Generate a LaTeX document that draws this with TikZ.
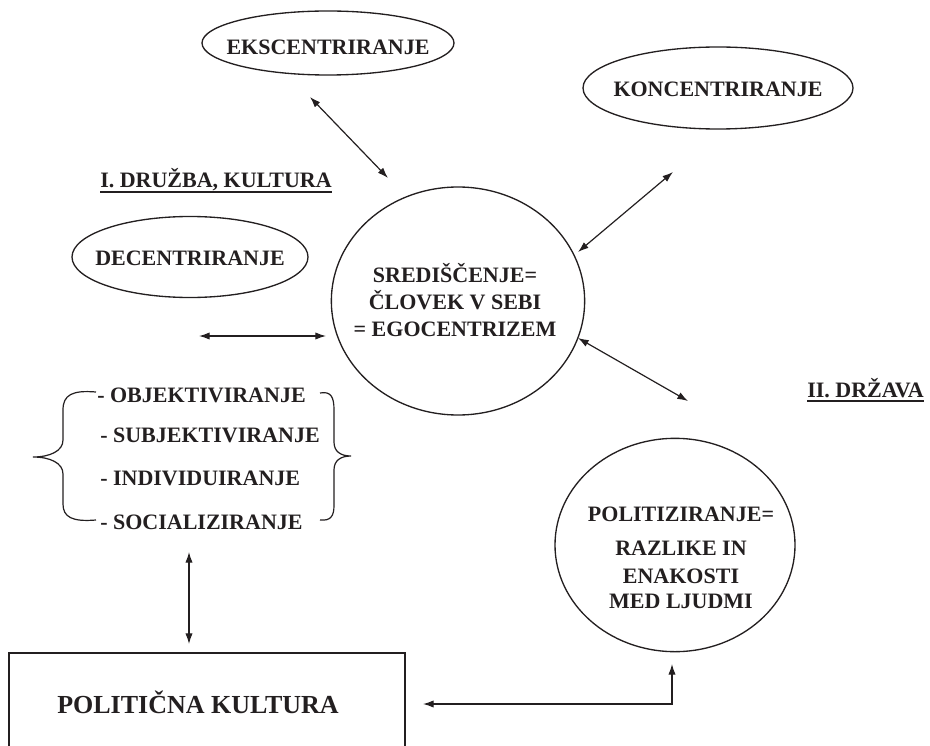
\documentclass[tikz,border=0pt]{standalone}
\usepackage{fontspec}
\setmainfont{Liberation Serif}
\usetikzlibrary{shapes.geometric,arrows.meta}
\definecolor{ink}{HTML}{231F20}
\begin{document}
\begin{tikzpicture}[x=0.75pt,y=-0.75pt,
  txt/.style={font=\fontsize{16.5}{19}\selectfont\bfseries, text=ink, inner sep=0pt},
  oval/.style={ellipse, draw=ink, line width=1pt, inner sep=0pt},
  dbl/.style={{Latex[length=8pt,width=5.5pt]}-{Latex[length=8pt,width=5.5pt]}, line width=0.9pt, draw=ink},
  brace/.style={draw=ink, line width=0.9pt},
  uline/.style={draw=ink, line width=1.5pt}]
\useasboundingbox (0,0) rectangle (930,745);

% ellipses and circles
\node[oval, minimum width=189pt, minimum height=48pt] (eks) at (328,43) {};
\node[txt] (ekstxt) at (328,47) {EKSCENTRIRANJE};
\node[oval, minimum width=202.5pt, minimum height=61.5pt] (kon) at (718,88) {};
\node[txt] (kontxt) at (718,89) {KONCENTRIRANJE};
\node[oval, minimum width=177pt, minimum height=60.75pt] (dec) at (190,257) {};
\node[txt] (dectxt) at (190,258) {DECENTRIRANJE};
\node[oval, minimum width=190pt, minimum height=171pt] (ctr) at (458,301) {};
\node[txt, font=\fontsize{16.5}{20}\selectfont\bfseries, align=center] (ctrtxt) at (455,300)
  {SREDIŠČENJE=\\ČLOVEK V SEBI\\= EGOCENTRIZEM};
\node[oval, minimum width=180pt, minimum height=160pt] (pol) at (675,545) {};
\node[txt, align=center] (poltxt) at (681,558)
  {POLITIZIRANJE=\\[6.5pt]RAZLIKE IN\\[2pt]ENAKOSTI\hspace*{12pt}\\MED LJUDMI};

% headings
\node[txt, anchor=base west] (h1) at (100,188) {I. DRUŽBA, KULTURA};
\draw[uline] ([yshift=-3pt]h1.base west) -- ([yshift=-3pt]h1.base east);
\node[txt, anchor=base west] (h2) at (807,397) {II. DRŽAVA};
\draw[uline] ([yshift=-3pt]h2.base west) -- ([yshift=-3pt]h2.base east);

% list
\node[txt, anchor=base west] (l1) at (97,402) {- OBJEKTIVIRANJE};
\node[txt, anchor=base west] (l2) at (100,442) {- SUBJEKTIVIRANJE};
\node[txt, anchor=base west] (l3) at (100,485) {- INDIVIDUIRANJE};
\node[txt, anchor=base west] (l4) at (100,529) {- SOCIALIZIRANJE};

% braces
\draw[brace] (96,392) .. controls (72,390) and (63,395) .. (63,410) -- (63,440)
  .. controls (63,451) and (50,457) .. (33,457)
  .. controls (50,457) and (63,463) .. (63,474) -- (63,504)
  .. controls (63,517) and (72,522) .. (96,520);
\draw[brace] (320,393) .. controls (331,391) and (334,397) .. (334,410) -- (334,442)
  .. controls (334,451) and (340,456) .. (351,456)
  .. controls (340,456) and (334,461) .. (334,470) -- (334,505)
  .. controls (334,516) and (331,521) .. (320,520);

% box
\draw[draw=ink, line width=1.4pt] (9,790) -- (9,653) -- (405,653) -- (405,790);
\node[txt, font=\fontsize{19.5}{22}\selectfont\bfseries] (pktxt) at (198,702) {POLITIČNA KULTURA};

% connector end points
\coordinate (a1) at (310,97);  \coordinate (a2) at (388,178);
\coordinate (b1) at (673,172); \coordinate (b2) at (578,252);
\coordinate (c1) at (199,336); \coordinate (c2) at (326,336);
\coordinate (d1) at (578,338); \coordinate (d2) at (688,401);
\coordinate (e1) at (189,552); \coordinate (e2) at (189,644);
\coordinate (f1) at (423,704); \coordinate (f2) at (672,704); \coordinate (f3) at (672,664);

\draw[dbl] (a1) -- (a2);
\draw[dbl] (b1) -- (b2);
\draw[dbl] (c1) -- (c2);
\draw[dbl] (d1) -- (d2);
\draw[dbl] (e1) -- (e2);
\draw[dbl] (f1) -- (f2) -- (f3);
\end{tikzpicture}
\end{document}
